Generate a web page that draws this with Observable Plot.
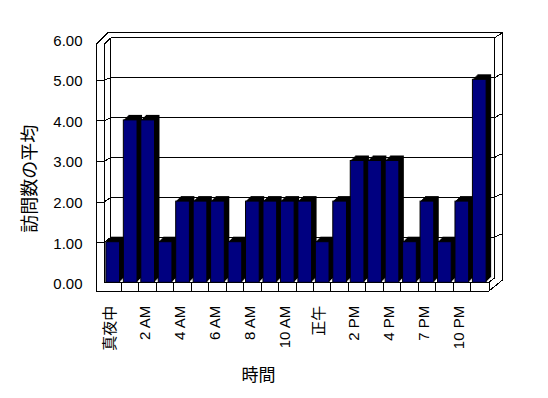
<!DOCTYPE html>
<html><head><meta charset="utf-8">
<script src="https://cdn.jsdelivr.net/npm/d3@7"></script>
<script src="https://cdn.jsdelivr.net/npm/@observablehq/plot@0.6"></script>
<style>body{margin:0;background:#fff}</style>
</head><body><div id="chart"></div>
<script>
const hours = ["真夜中","1 AM","2 AM","3 AM","4 AM","5 AM","6 AM","7 AM","8 AM","9 AM","10 AM","11 AM","正午","1 PM","2 PM","3 PM","4 PM","6 PM","7 PM","9 PM","10 PM","11 PM"];
const visits = [1,4,4,1,2,2,2,1,2,2,2,2,1,2,3,3,3,1,2,1,2,5];
const tickLabels = ["真夜中","2 AM","4 AM","6 AM","8 AM","10 AM","正午","2 PM","4 PM","7 PM","10 PM"];
const yTicks = [0,1,2,3,4,5,6];
const gridValues = [1,2,3,4,5];
const yTitle = "訪問数の平均";
const xTitle = "時間";

const data = hours.map((h, i) => ({hour: h, value: visits[i]}));

function frame3d(index, scales, values, dim) {
  const y = scales.y;
  const X0 = dim.marginLeft, X1 = dim.width - dim.marginRight;
  const Y0 = y(0), Ytop = y(6);
  const n = hours.length, step = (X1 - X0) / n;
  const outerL = X0 - 7.7, backL = X0 + 6.7, backR = X1 + 6.5, outerR = X1 + 14.5;
  const backY = v => Y0 - 5 + (y(v) - Y0) * 0.983;
  const topY = backY(6), outerTop = topY - 5.2, floorB = Y0 + 8.7, floorR = X1 + 1;
  const g = d3.create("svg:g").attr("fill", "none").attr("stroke", "black")
    .attr("stroke-width", 1).attr("shape-rendering", "crispEdges");
  const L = (x1, y1, x2, y2) => g.append("line").attr("x1", x1).attr("y1", y1).attr("x2", x2).attr("y2", y2);
  // left wall
  L(outerL, Ytop + 5.6, outerL, floorB);
  L(X0, Ytop + 5.6, X0, Y0);
  L(outerL, Ytop + 5.6, outerL + 11.7, outerTop);
  L(X0, Ytop + 5.6, backL, topY);
  // top edges
  L(outerL + 11.7, outerTop, outerR, outerTop);
  L(backL, topY, backR, topY);
  L(backR, topY, outerR, outerTop);
  // back wall sides
  L(backL, topY, backL, backY(0));
  L(backR, topY, backR, Y0 - 4.3);
  L(outerR, outerTop, outerR, Y0 - 2.3);
  // floor
  L(outerL, floorB, floorR, floorB);
  L(X0, Y0, floorR, Y0);
  L(floorR, Y0, floorR, floorB);
  L(floorR, floorB, outerR, Y0 - 2.3);
  L(floorR, Y0, backR, Y0 - 4.3);
  for (let k = 1; k < n; k++) L(X0 + step * k, Y0, X0 + step * k, floorB);
  // gridlines
  for (const v of gridValues) {
    const yf = y(v) + 1, yb = backY(v);
    L(outerL, yf, X0, yf);
    L(X0, yf, backL, yb);
    L(backL, yb, backR, yb);
    L(backR, yb, backR + 5.3, yb - 3);
    L(backR + 5.3, yb - 3, outerR, yb - 3);
  }
  return g.node();
}

const shadowMarks = [1, 2, 3, 4, 5].map(k =>
  Plot.barY(data, {x: "hour", y: "value", fill: "black", dx: k, dy: -k})
);

const chart = Plot.plot({
  width: 548,
  height: 398,
  marginLeft: 104,
  marginRight: 60,
  marginTop: 38.7,
  marginBottom: 115.7,
  style: {
    fontFamily: "'Liberation Sans', Arial, 'Noto Sans CJK JP', sans-serif",
    fontSize: "15px",
    color: "black",
    background: "white",
    overflow: "visible"
  },
  x: {domain: hours, paddingInner: 0.215, paddingOuter: 0.1075, round: false, label: null},
  y: {domain: [0, 6], label: null},
  marks: [
    frame3d,
    ...shadowMarks,
    Plot.barY(data, {x: "hour", y: "value", fill: "#000080", stroke: "black", strokeWidth: 1}),
    Plot.axisY({ticks: yTicks, tickFormat: d => d.toFixed(2), tickSize: 0, tickPadding: 22, dy: 1.5, fontSize: 15, label: null}),
    Plot.axisX({ticks: tickLabels, tickRotate: -90, tickSize: 0, tickPadding: 23, dx: -3, fontSize: 15, fill: "black", label: null}),
    Plot.text([yTitle], {text: d => d, frameAnchor: "left", textAnchor: "middle", lineAnchor: "middle", dx: -74.5, dy: 17.8, rotate: -90, fontSize: 18, fill: "black"}),
    Plot.text([xTitle], {text: d => d, frameAnchor: "bottom", textAnchor: "middle", lineAnchor: "middle", dx: -38, dy: 92.7, fontSize: 17, fill: "black"})
  ]
});
document.getElementById("chart").appendChild(chart);
</script>
</body></html>
